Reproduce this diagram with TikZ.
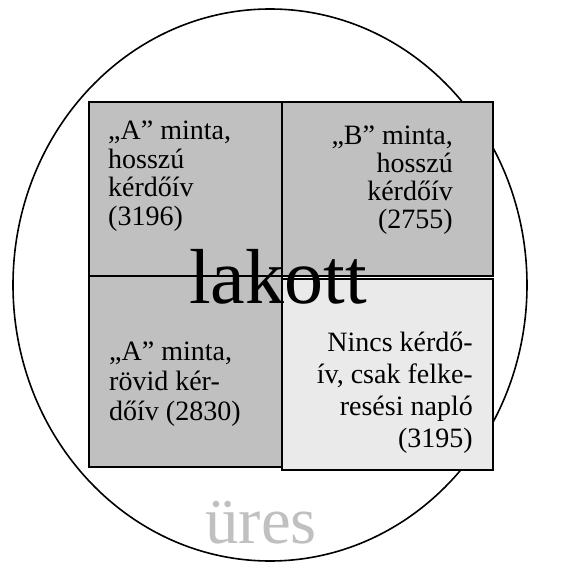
\documentclass[tikz,border=0pt]{standalone}
\usepackage{fontspec}
\setmainfont{Liberation Serif}
\definecolor{boxgray}{HTML}{C0C0C0}
\definecolor{boxlight}{HTML}{EAEAEA}
\definecolor{emptygray}{HTML}{C0C0C0}
\begin{document}
\begin{tikzpicture}[x=1pt,y=-1pt,
  box/.style={draw=black,line width=1.3pt},
  lbl/.style={inner sep=0pt},
  lblfont/.style={font=\fontsize{28}{#1}\selectfont}]
\useasboundingbox (0,0) rectangle (563,562);
\draw[line width=1.6pt] (270,285) ellipse [x radius=257, y radius=276];
\draw[box,fill=boxgray] (89,102) rectangle (282,276);
\draw[box,fill=boxgray] (282,102) rectangle (493,276);
\draw[box,fill=boxgray] (89,276) rectangle (282,467);
\draw[box,fill=boxlight] (282,279) rectangle (493,470);
\node[lbl,lblfont=28.5,anchor=base west,align=left] (ta) at (108,225) {„A” minta,\\hosszú\\kérdőív\\(3196)};
\node[lbl,lblfont=27.7,anchor=base east,align=right] (tb) at (453,228) {„B” minta,\\hosszú\\kérdőív\\(2755)};
\node[lbl,lblfont=30,anchor=base west,align=left] (ba) at (109,420) {„A” minta,\\rövid kér-\\dőív (2830)};
\node[lbl,lblfont=32,anchor=base east,align=right] (bn) at (473,447) {Nincs kérdő-\\ív, csak felke-\\resési napló\\(3195)};
\node[lbl,font=\fontsize{78}{78}\selectfont,anchor=base] (lakott) at (278,303) {lakott};
\node[lbl,font=\fontsize{67}{67}\selectfont,text=emptygray,anchor=base] (ures) at (261,543) {üres};
\end{tikzpicture}
\end{document}
